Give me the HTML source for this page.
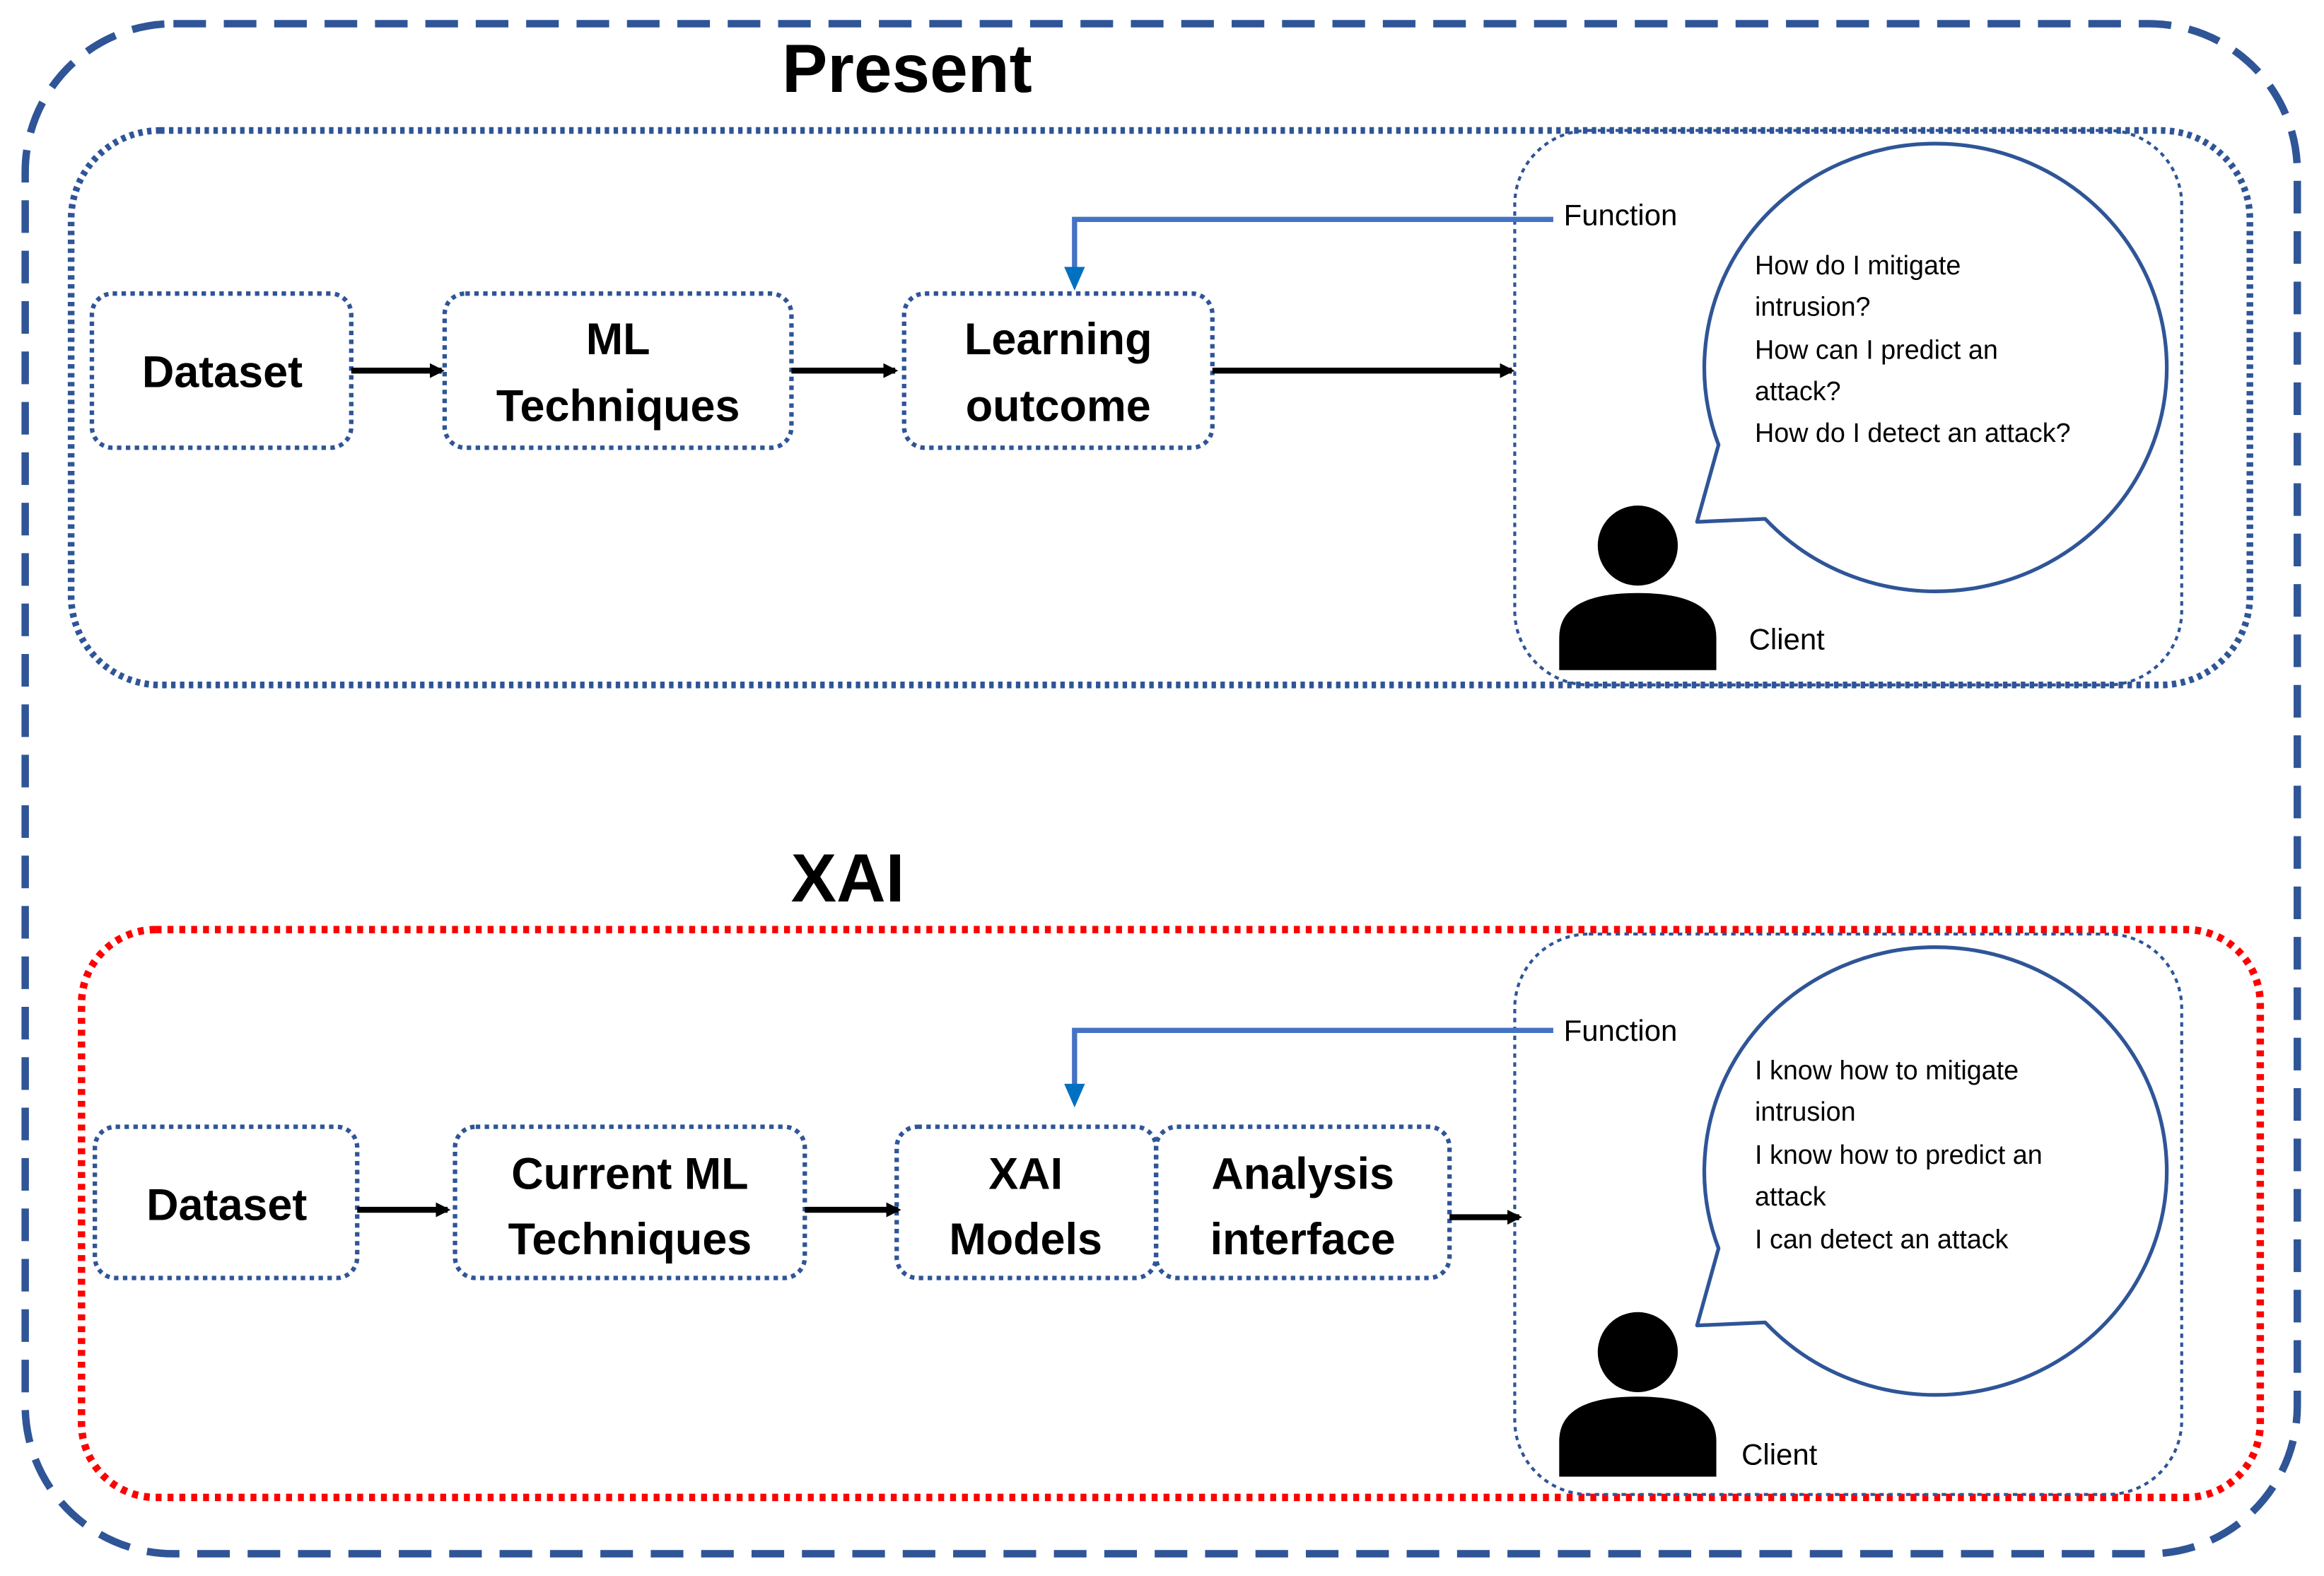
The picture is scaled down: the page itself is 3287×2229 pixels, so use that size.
<!DOCTYPE html>
<html><head><meta charset="utf-8"><style>
html,body{margin:0;padding:0;background:#fff;}
svg{display:block;}
text{font-family:"Liberation Sans",sans-serif;}
</style></head><body>
<svg width="3287" height="2229" viewBox="0 0 1568 1063" preserveAspectRatio="none" xmlns="http://www.w3.org/2000/svg">
<defs>
<marker id="ak" markerWidth="10" markerHeight="10" refX="8" refY="5" orient="auto" markerUnits="userSpaceOnUse"><path d="M0,0 L10,5 L0,10 z" fill="#000"/></marker>
</defs>
<rect width="1568" height="1063" fill="#fff"/>
<rect x="17" y="16" width="1533" height="1032" rx="100" fill="none" stroke="#2F5597" stroke-width="5" stroke-dasharray="22 12"/>
<text x="612" y="62" font-size="46" font-weight="bold" text-anchor="middle">Present</text>
<text x="572" y="608" font-size="46" font-weight="bold" text-anchor="middle">XAI</text>
<rect x="48" y="88" width="1470" height="374" rx="60" fill="none" stroke="#2F5597" stroke-width="4.5" stroke-dasharray="3 3"/>
<rect x="1022" y="88" width="450" height="374" rx="50" fill="none" stroke="#2F5597" stroke-width="2" stroke-dasharray="3 3"/>
<rect x="55" y="627" width="1470" height="383" rx="50" fill="none" stroke="#FF0000" stroke-width="5" stroke-dasharray="4 4"/>
<rect x="1022" y="630" width="450" height="378" rx="50" fill="none" stroke="#2F5597" stroke-width="2" stroke-dasharray="3 3"/>

<g fill="none" stroke="#2F5597" stroke-width="3" stroke-dasharray="3 3">
<rect x="62" y="198" width="175" height="104" rx="14"/>
<rect x="300" y="198" width="234" height="104" rx="14"/>
<rect x="610" y="198" width="208" height="104" rx="14"/>
<rect x="64" y="760" width="177" height="102" rx="14"/>
<rect x="307" y="760" width="236" height="102" rx="14"/>
<rect x="605" y="760" width="175" height="102" rx="14"/>
<rect x="780" y="760" width="198" height="102" rx="14"/>
</g>
<g font-size="30" font-weight="bold" text-anchor="middle" fill="#000">
<text x="150" y="261">Dataset</text>
<text x="417" y="239">ML</text>
<text x="417" y="284">Techniques</text>
<text x="714" y="239">Learning</text>
<text x="714" y="284">outcome</text>
<text x="153" y="823">Dataset</text>
<text x="425" y="802">Current ML</text>
<text x="425" y="846">Techniques</text>
<text x="692" y="802">XAI</text>
<text x="692" y="846">Models</text>
<text x="879" y="802">Analysis</text>
<text x="879" y="846">interface</text>
</g>
<g stroke="#000" stroke-width="4" marker-end="url(#ak)">
<line x1="237" y1="250" x2="298" y2="250"/>
<line x1="534" y1="250" x2="604" y2="250"/>
<line x1="818" y1="250" x2="1020" y2="250"/>
<line x1="241" y1="816" x2="302" y2="816"/>
<line x1="543" y1="816" x2="606" y2="816"/>
<line x1="978" y1="821" x2="1025" y2="821"/>
</g>
<g fill="none" stroke="#4472C4" stroke-width="3.5">
<polyline points="1048,148 725,148 725,183"/>
<polyline points="1048,695 725,695 725,733"/>
</g>
<path d="M718,180 L732,180 L725,196 z" fill="#0070C0"/>
<path d="M718,731 L732,731 L725,747 z" fill="#0070C0"/>
<g font-size="20" fill="#000">
<text x="1055" y="152">Function</text>
<text x="1055" y="702">Function</text>
<text x="1180" y="438">Client</text>
<text x="1175" y="988">Client</text>
</g>
<path d="M1159.5,300 A156,151 0 1 1 1191,350 L1145,352 Z" fill="#fff" stroke="#2F5597" stroke-width="2.5" stroke-linejoin="round"/>
<path d="M1159.5,842 A156,151 0 1 1 1191,892 L1145,894 Z" fill="#fff" stroke="#2F5597" stroke-width="2.5" stroke-linejoin="round"/>
<g font-size="18" fill="#000">
<text x="1184" y="185">How do I mitigate</text>
<text x="1184" y="213">intrusion?</text>
<text x="1184" y="242">How can I predict an</text>
<text x="1184" y="270">attack?</text>
<text x="1184" y="298">How do I detect an attack?</text>
<text x="1184" y="728">I know how to mitigate</text>
<text x="1184" y="756">intrusion</text>
<text x="1184" y="785">I know how to predict an</text>
<text x="1184" y="813">attack</text>
<text x="1184" y="842">I can  detect an attack</text>
</g>
<g fill="#000">
<ellipse cx="1105" cy="368" rx="27" ry="27"/>
<path d="M1052,452 L1052,430 Q1052,400 1105,400 Q1158,400 1158,430 L1158,452 Z"/>
<ellipse cx="1105" cy="912" rx="27" ry="27"/>
<path d="M1052,996 L1052,972 Q1052,942 1105,942 Q1158,942 1158,972 L1158,996 Z"/>
</g>
</svg>
</body></html>
